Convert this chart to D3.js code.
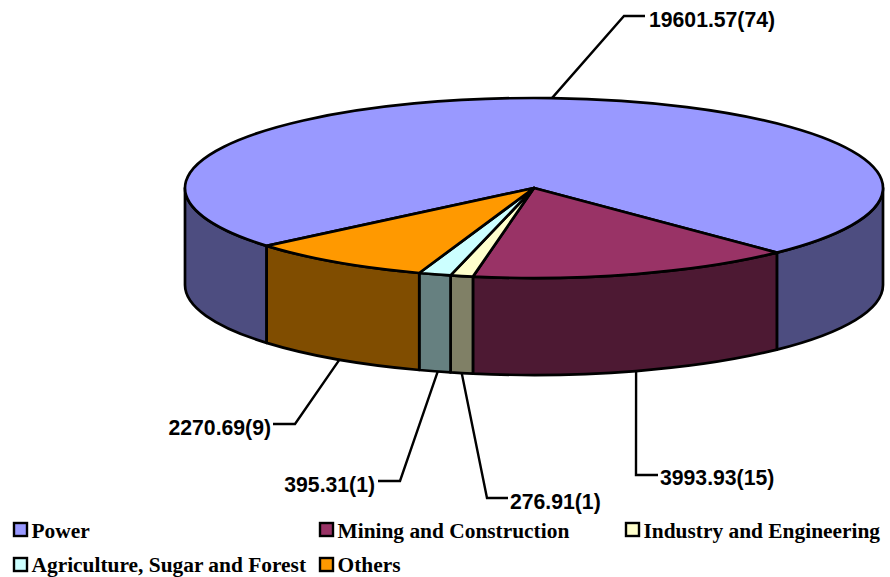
<!DOCTYPE html>
<html>
<head>
<meta charset="utf-8">
<style>
  html, body { margin: 0; padding: 0; background: #fff; }
  svg { display: block; }
  .label { font-family: "Liberation Sans", Arial, sans-serif; font-weight: bold; font-size: 21.2px; fill: #000; }
  .legend-text { font-family: "Liberation Serif", "Times New Roman", serif; font-weight: bold; font-size: 21.4px; fill: #000; }
</style>
<script src="https://cdn.jsdelivr.net/npm/d3@7"></script>
</head>
<body>
<div id="chart"></div>
<script>
const categories = ['Power', 'Mining and Construction', 'Industry and Engineering', 'Agriculture, Sugar and Forest', 'Others']
const values = [19601.57, 3993.93, 276.91, 395.31, 2270.69]
const percents = [74, 15, 1, 1, 9]
const topColors = ['#9999ff', '#993366', '#ffffcc', '#ccffff', '#ff9900']
const sideColors = ['#4d4d80', '#4d1933', '#808066', '#668080', '#804d00']

const width = 890
const height = 577

const cx = 534
const cy = 188
const rx = 349
const ry = 90
const depth = 97

// elbow and text spot for each leader line, same order as categories
// nudge shifts the foot of the line along the rim
const leaders = [
  { elbow: [624, 16], end: [645, 16], text: [650, 27], anchor: 'start', nudge: 0 },
  { elbow: [636, 475], end: [658, 475], text: [661, 485], anchor: 'start', nudge: 0 },
  { elbow: [487, 498], end: [508, 498], text: [511, 509], anchor: 'start', nudge: 0 },
  { elbow: [400, 481], end: [378, 481], text: [375, 492], anchor: 'end', nudge: 3 },
  { elbow: [295, 424], end: [273, 424], text: [271, 435], anchor: 'end', nudge: 4 }
]

const legendSpots = [[14, 523], [320, 523], [626, 523], [14, 558], [320, 558]]
const legendBaselines = [15, 15, 15, 14, 14]

const svg = d3
  .select('#chart')
  .append('svg')
  .attr('width', width)
  .attr('height', height)

const tau = Math.PI * 2

const pie = d3
  .pie()
  .sort(null)
  .startAngle((230 / 360) * tau)
  .endAngle((230 / 360) * tau + tau)

const slices = pie(values).map((d, i) => ({ ...d, i }))

const px = a => cx + rx * Math.sin(a)
const py = a => cy - ry * Math.cos(a)

function topPath(d) {
  const large = d.endAngle - d.startAngle > Math.PI ? 1 : 0
  return `M${cx},${cy}L${px(d.startAngle)},${py(d.startAngle)}A${rx},${ry} 0 ${large} 1 ${px(d.endAngle)},${py(d.endAngle)}Z`
}

function wallPath(a0, a1) {
  return (
    `M${px(a0)},${py(a0)}A${rx},${ry} 0 0 1 ${px(a1)},${py(a1)}` +
    `L${px(a1)},${py(a1) + depth}A${rx},${ry} 0 0 0 ${px(a0)},${py(a0) + depth}Z`
  )
}

// only the part of a slice between 90deg and 270deg shows its wall
const walls = []
slices.forEach(d => {
  ;[0, tau].forEach(shift => {
    const a0 = Math.max(d.startAngle - shift, tau / 4)
    const a1 = Math.min(d.endAngle - shift, (tau * 3) / 4)
    if (a1 > a0) walls.push({ a0, a1, i: d.i })
  })
})

svg
  .append('g')
  .selectAll('path')
  .data(walls)
  .enter()
  .append('path')
  .attr('d', d => wallPath(d.a0, d.a1))
  .attr('fill', d => sideColors[d.i])
  .attr('stroke', '#000')
  .attr('stroke-width', 2.7)
  .attr('stroke-linejoin', 'round')

svg
  .append('g')
  .selectAll('path')
  .data(slices)
  .enter()
  .append('path')
  .attr('d', topPath)
  .attr('fill', d => topColors[d.i])
  .attr('stroke', '#000')
  .attr('stroke-width', 2.7)
  .attr('stroke-linejoin', 'round')

// leader lines start at the rim, at the middle of the slice
const leaderLine = d3.line()

svg
  .append('g')
  .selectAll('path')
  .data(slices)
  .enter()
  .append('path')
  .attr('d', d => {
    const mid = (d.startAngle + d.endAngle) / 2
    const onFront = Math.cos(mid) < 0
    const start = [px(mid) + leaders[d.i].nudge, py(mid) + (onFront ? depth : 0)]
    return leaderLine([start, leaders[d.i].elbow, leaders[d.i].end])
  })
  .attr('fill', 'none')
  .attr('stroke', '#000')
  .attr('stroke-width', 2.4)

svg
  .append('g')
  .selectAll('text')
  .data(slices)
  .enter()
  .append('text')
  .attr('class', 'label')
  .attr('x', d => leaders[d.i].text[0] - (leaders[d.i].anchor === 'start' ? 1 : 0))
  .attr('y', d => leaders[d.i].text[1])
  .attr('text-anchor', d => leaders[d.i].anchor)
  .text(d => `${values[d.i]}(${percents[d.i]})`)

const legend = svg
  .append('g')
  .selectAll('g')
  .data(categories)
  .enter()
  .append('g')
  .attr('transform', (d, i) => `translate(${legendSpots[i][0]},${legendSpots[i][1]})`)

legend
  .append('rect')
  .attr('width', 13)
  .attr('height', 13)
  .attr('fill', (d, i) => topColors[i])
  .attr('stroke', '#000')
  .attr('stroke-width', 2.4)

legend
  .append('text')
  .attr('class', 'legend-text')
  .attr('x', 17.5)
  .attr('y', (d, i) => legendBaselines[i])
  .text(d => d)
</script>
</body>
</html>
